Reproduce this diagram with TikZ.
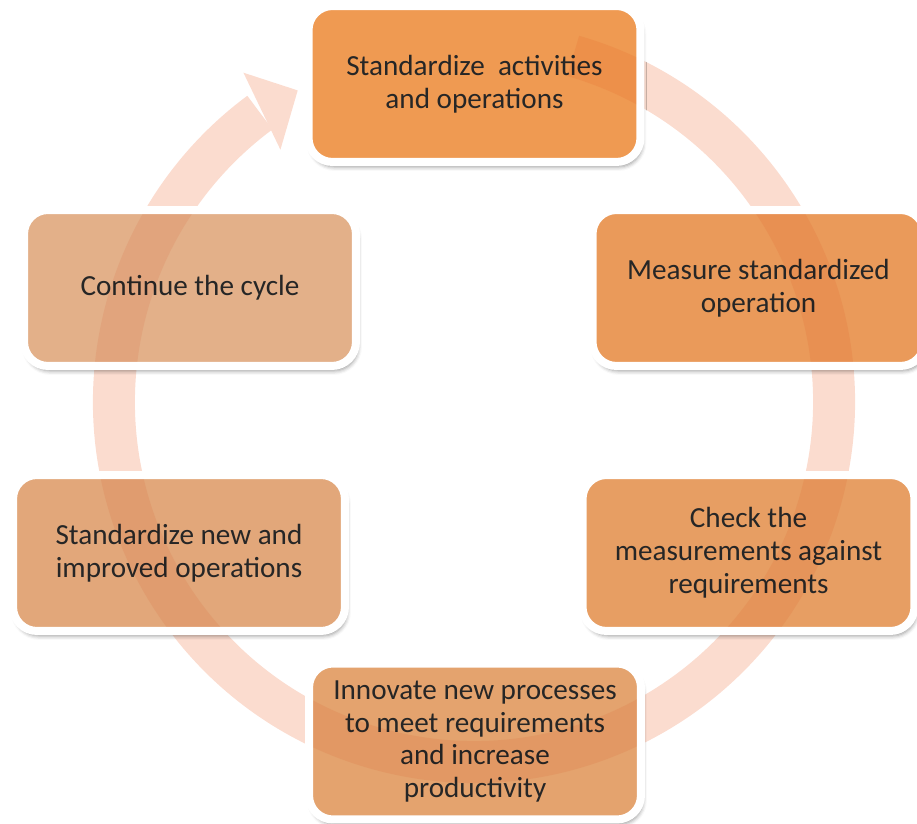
\documentclass[tikz,border=0pt]{standalone}
\usepackage{fontspec}
\setmainfont{Carlito}
\usepackage{xcolor}
\usetikzlibrary{shadows.blur}

\definecolor{ringpink}{HTML}{FBDCCF}
\definecolor{txtgray}{HTML}{262626}
\definecolor{stepA}{HTML}{EF9A52}
\definecolor{stepB}{HTML}{EA9A5A}
\definecolor{stepC}{HTML}{E79E63}
\definecolor{stepD}{HTML}{E4A36E}
\definecolor{stepE}{HTML}{E2A77A}
\definecolor{stepF}{HTML}{E3B089}

\begin{document}
\begin{tikzpicture}[
    x=0.02cm, y=0.02cm,
    stepbox/.style={
        draw=white, line width=0.16cm, rounded corners=0.48cm,
        minimum width=6.64cm, minimum height=3.12cm, align=center,
        text=txtgray, font=\fontsize{16.6}{18.7}\selectfont,
        blur shadow={shadow xshift=0.04cm, shadow yshift=-0.1cm,
                     shadow blur radius=0.08cm, shadow opacity=40}
    },
    ring/.style={draw=ringpink, line width=0.84cm}
]
\useasboundingbox (0,0) rectangle (917,824);
\coordinate (c) at (474,422);

% --- Cycle arrow ---
\draw[ring] ([shift={(74:360)}]c) arc[start angle=74, end angle=-233.5, radius=360];
\fill[ringpink] ([shift={(125:402)}]c) -- ([shift={(119.5:358)}]c)
    -- ([shift={(127.5:318)}]c) -- cycle;

% --- Steps, clockwise from the top ---
\node[stepbox, fill=stepA] (standard) at (474.5,740) {Standardize\ \ activities\\and operations};
\node[stepbox, fill=stepB] (measure) at (758.5,536) {Measure standardized\\operation};
\node[stepbox, fill=stepC] (check) at (748.5,271) {Check the\\measurements against\\requirements};
\node[stepbox, fill=stepD] (innovate) at (475,82.5) {Innovate new processes\\to meet requirements\\and increase\\productivity};
\node[stepbox, fill=stepE] (newstd) at (179,271) {Standardize new and\\improved operations};
\node[stepbox, fill=stepF] (cont) at (190,536) {Continue the cycle};

% --- Ring seen through the boxes ---
\begin{scope}[blend mode=multiply]
  \clip[rounded corners=0.4cm]
    foreach \n in {standard,measure,check,innovate,newstd,cont}
    {([shift={(8,8)}]\n.south west) rectangle ([shift={(-8,-8)}]\n.north east)};
  \draw[ring, opacity=0.45] ([shift={(74:360)}]c) arc[start angle=74, end angle=-233.5, radius=360];
\end{scope}

\end{tikzpicture}
\end{document}
